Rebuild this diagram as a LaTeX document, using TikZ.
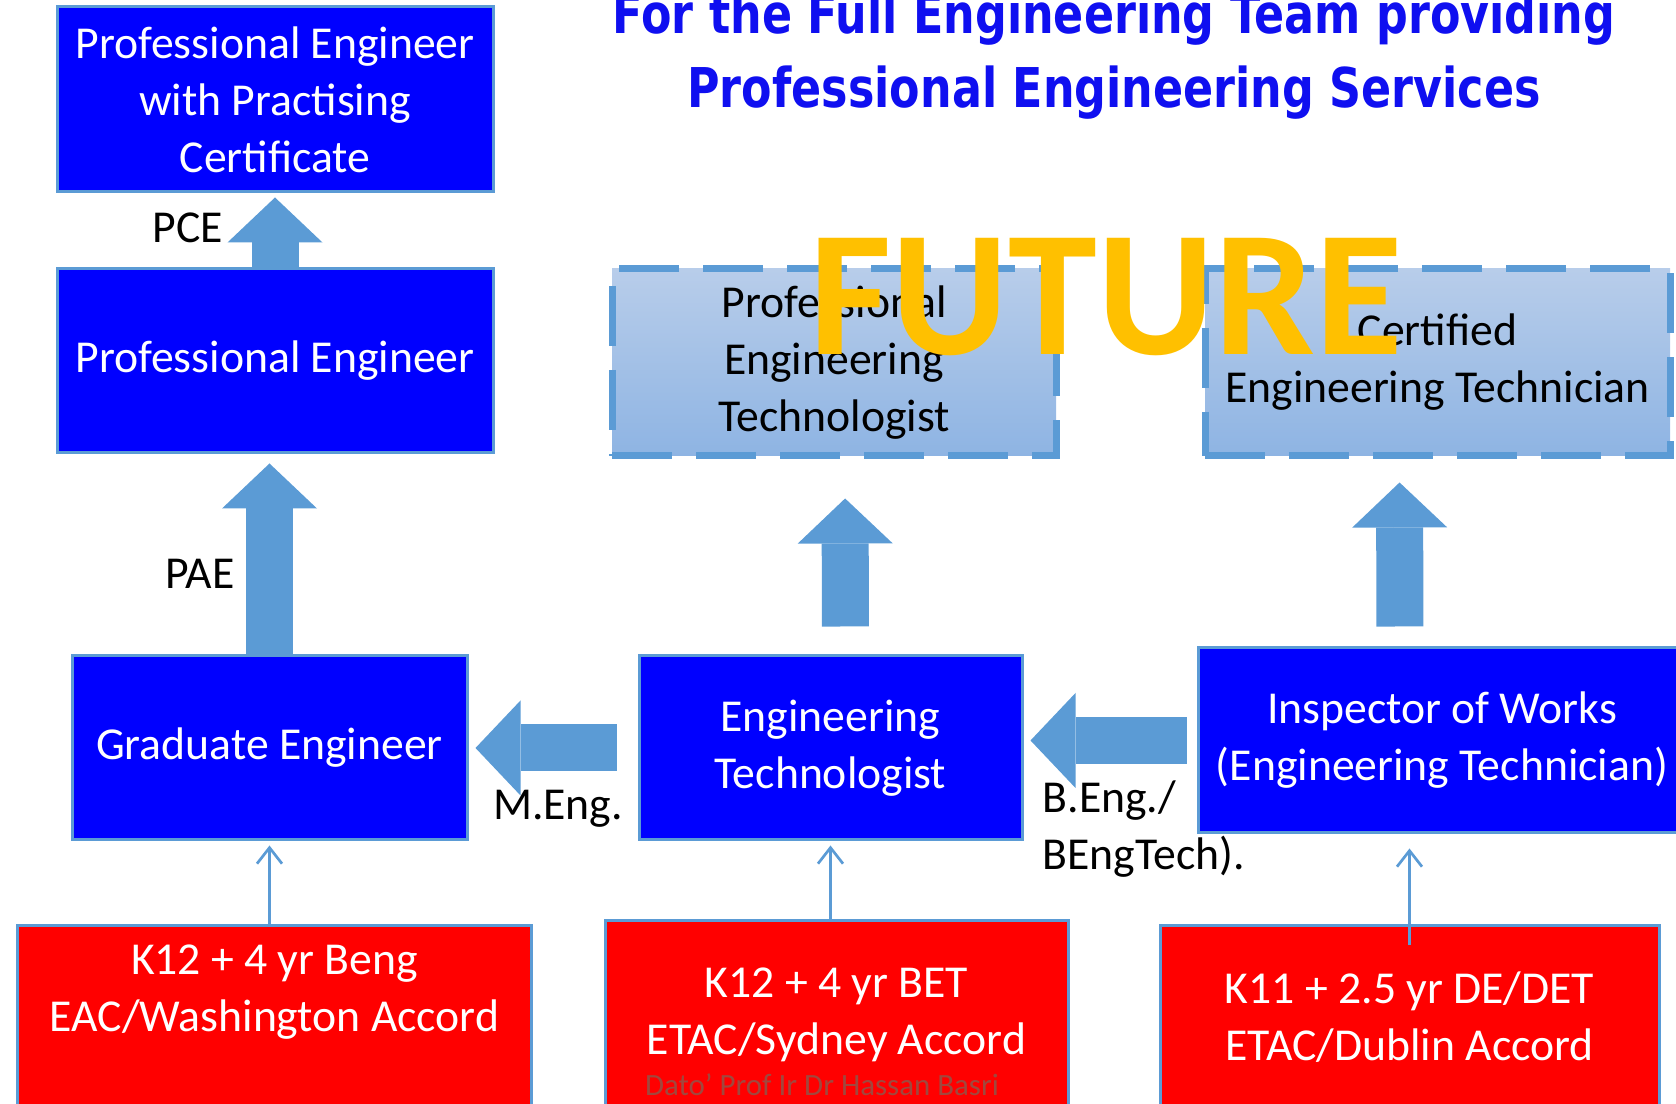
\documentclass[tikz,border=0pt]{standalone}
\usepackage{fontspec}
\setmainfont{Carlito}
\newfontfamily\titlefont{DejaVu Sans}[FakeStretch=0.81]
\usetikzlibrary{arrows.meta}
\definecolor{boxblue}{RGB}{0,0,255}
\definecolor{boxred}{RGB}{255,0,0}
\definecolor{edgeblue}{RGB}{91,155,213}
\definecolor{arrowblue}{RGB}{91,155,213}
\definecolor{futuretop}{RGB}{184,205,234}
\definecolor{futurebot}{RGB}{142,180,227}
\definecolor{futuregold}{RGB}{255,192,0}
\definecolor{titleblue}{RGB}{15,15,240}
\definecolor{creditred}{RGB}{160,72,62}
\newcommand{\diagfont}{\fontsize{13}{16.2}\selectfont}
\begin{document}
\begin{tikzpicture}[bluebox/.style={draw=edgeblue, line width=0.3mm, fill=boxblue, text=white, align=center, inner sep=0pt, font=\diagfont},
	redbox/.style={draw=edgeblue, line width=0.3mm, fill=boxred, text=white, align=center, inner sep=0pt, font=\diagfont},
	futurebox/.style={draw=edgeblue, line width=0.7mm, dash pattern=on 6mm off 2.4mm, top color=futuretop, bottom color=futurebot, text=black, align=center, inner sep=0pt, font=\diagfont},
	blockarrow/.style={draw=arrowblue, line width=4.7mm, -{Triangle[length=4.5mm, width=9.5mm, line width=0pt]}},
	thinarrow/.style={draw=edgeblue, line width=0.27mm, -{Straight Barb[length=1.6mm, width=2.5mm]}},
	lbl/.style={font=\diagfont, inner sep=0pt}]
	\clip (0,0) rectangle (16.76,-11.04);
	\node (PEPC) at ( 2.75,  -0.995)	[bluebox, minimum width=4.36cm, minimum height=1.85cm]	{Professional Engineer\\with Practising\\Certificate};
	\node (PE)   at ( 2.75,  -3.61)	[bluebox, minimum width=4.36cm, minimum height=1.84cm]	{Professional Engineer};
	\node (GE)   at ( 2.695, -7.48)	[bluebox, minimum width=3.95cm, minimum height=1.84cm]	{Graduate Engineer};
	\node (ET)   at ( 8.305, -7.48)	[bluebox, minimum width=3.83cm, minimum height=1.84cm]	{Engineering\\Technologist};
	\node (IW)   at (14.42,  -7.405)	[bluebox, minimum width=4.88cm, minimum height=1.85cm]	{Inspector of Works\\(Engineering Technician)};
	\node (PET)  at ( 8.34,  -3.625)	[futurebox, minimum width=4.44cm, minimum height=1.87cm]	{Professional\\Engineering\\Technologist};
	\node (CET)  at (14.375, -3.625)	[futurebox, minimum width=4.65cm, minimum height=1.87cm]	{Certified\\Engineering Technician};
	\node (R1)   at ( 2.745, -10.17)	[redbox, minimum width=5.13cm, minimum height=1.82cm]	{K12 + 4 yr Beng\\EAC/Washington Accord\\~};
	\node (R2)   at ( 8.365, -10.145)	[redbox, minimum width=4.63cm, minimum height=1.87cm]	{K12 + 4 yr BET\\ETAC/Sydney Accord};
	\node (R3)   at (14.095, -10.17)	[redbox, minimum width=4.99cm, minimum height=1.82cm]	{K11 + 2.5 yr DE/DET\\ETAC/Dublin Accord};
	\node (credit) at (8.22, -10.85)	[inner sep=0pt, text=creditred, font=\fontsize{8.8}{10}\selectfont]	{Dato' Prof Ir Dr Hassan Basri};
	\draw[blockarrow, shorten >=0.04cm] (PE.north) -- (PEPC.south);
	\draw[blockarrow, shorten >=0.09cm] (GE.north) -- (GE.north |- PE.south);
	\draw[blockarrow, shorten <=0.21cm, shorten >=0.07cm] (ET.west) -- (ET.west -| GE.east);
	\draw[blockarrow, shorten <=0.10cm, shorten >=0.07cm] (IW.west) -- (IW.west -| ET.east);
	\draw[blockarrow, shorten <=0.28cm, shorten >=0.39cm] ([xshift=1.5mm]ET.north) -- ([xshift=1.1mm]PET.south);
	\draw[blockarrow, shorten <=0.20cm, shorten >=0.23cm] ([xshift=-4.2mm]IW.north) -- ([xshift=-3.8mm]CET.south);
	\draw[thinarrow, shorten >=0.04cm] (GE.south |- R1.north) -- (GE.south);
	\draw[thinarrow, shorten >=0.04cm] (ET.south |- R2.north) -- (ET.south);
	\draw[thinarrow, shorten >=0.14cm] ([yshift=-2.1mm]R3.north) -- (R3.north |- IW.south);
	\node (PCE)  at ( 1.88, -2.28)	[lbl]	{PCE};
	\node (PAE)  at ( 2.00, -5.74)	[lbl]	{PAE};
	\node (MEng) at ( 5.58, -8.09)	[lbl]	{M.Eng.};
	\node (BEng) at (10.42, -8.29)	[lbl, anchor=west, align=left]	{B.Eng./\\BEngTech).};
	\node (title) at (11.14, -0.555)	[inner sep=0pt, align=center, text=titleblue, font=\titlefont\bfseries\fontsize{15.6}{21}\selectfont]	{For the Full Engineering Team providing\\Professional Engineering Services};
	\node (future) at (11.06, -2.97)	[inner sep=0pt, text=futuregold, font=\bfseries\fontsize{51}{51}\selectfont]	{FUTURE};
\end{tikzpicture}
\end{document}
